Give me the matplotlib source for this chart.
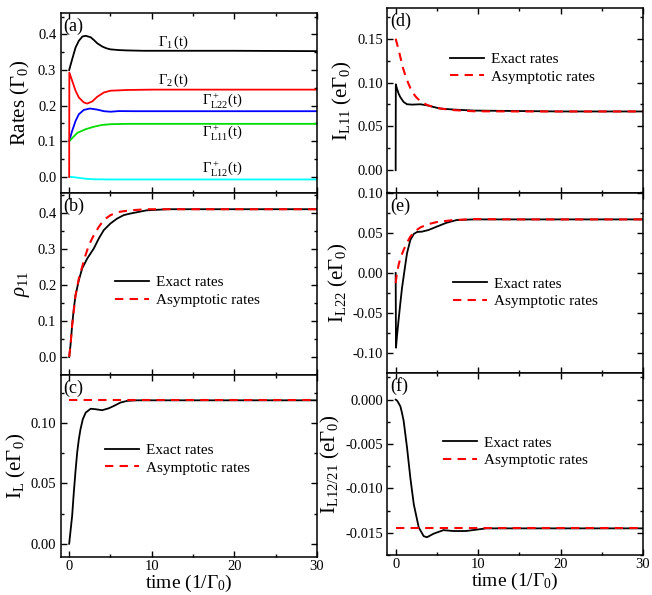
import matplotlib
matplotlib.use('Agg')
import matplotlib.pyplot as plt
from matplotlib.ticker import MultipleLocator, FormatStrFormatter

plt.rcParams['font.family'] = ['Liberation Serif', 'DejaVu Serif']
plt.rcParams['mathtext.fontset'] = 'custom'
plt.rcParams['mathtext.rm'] = 'Liberation Serif'
plt.rcParams['mathtext.it'] = 'Liberation Serif:italic'
plt.rcParams['mathtext.bf'] = 'Liberation Serif:bold'
plt.rcParams['axes.unicode_minus'] = False
plt.rcParams['axes.linewidth'] = 1.1

# ---- panel (a): rates ----
t_g1 = [0, 0.36, 0.77, 1.17, 1.6, 2.0, 2.6, 3.0, 3.4, 4.0, 4.5, 5.0, 6.0, 7.0, 9, 12, 20, 30]
g1 = [0.300, 0.330, 0.363, 0.382, 0.394, 0.396, 0.392, 0.384, 0.375, 0.366, 0.361, 0.358,
      0.356, 0.355, 0.354, 0.354, 0.354, 0.353]
t_g2 = [0, 0.02, 0.36, 0.77, 1.17, 1.77, 2.2, 2.8, 3.4, 4.2, 5.0, 7.0, 10, 20, 30]
g2 = [0, 0.293, 0.270, 0.242, 0.223, 0.209, 0.206, 0.212, 0.225, 0.237, 0.242, 0.244,
      0.245, 0.245, 0.245]
t_l22 = [0, 0.36, 0.77, 1.17, 1.77, 2.5, 3.4, 4.2, 5.0, 6.0, 8, 12, 30]
l22 = [0.101, 0.129, 0.157, 0.176, 0.188, 0.192, 0.189, 0.1845, 0.183, 0.1848, 0.1845,
       0.1845, 0.1845]
t_l11 = [0, 0.36, 1.0, 2.0, 3.0, 4.0, 5.0, 7.0, 10, 30]
l11 = [0.100, 0.109, 0.124, 0.134, 0.141, 0.146, 0.148, 0.149, 0.149, 0.149]
t_l12 = [0, 1.0, 2.0, 3.0, 5.0, 10, 30]
l12 = [0.001, -0.002, -0.005, -0.0065, -0.007, -0.007, -0.007]

# ---- panel (b): rho11 ----
t_b = [0, 0.16, 0.36, 0.56, 0.77, 1.17, 1.57, 2.18, 2.98, 3.59, 4.19, 5.0, 5.8, 6.6, 7.4,
       9.4, 12, 30]
rho_exact = [0, 0.0325, 0.088, 0.134, 0.171, 0.213, 0.2455, 0.273, 0.301, 0.329, 0.352,
             0.3705, 0.384, 0.3936, 0.398, 0.407, 0.41, 0.41]
t_b2 = [0, 0.16, 0.36, 0.77, 1.17, 1.57, 1.98, 2.38, 2.98, 3.59, 4.19, 5.0, 6.0, 7.4,
        9.4, 12, 30]
rho_asym = [0, 0.0325, 0.088, 0.171, 0.218, 0.25, 0.2825, 0.31, 0.338, 0.361, 0.38,
            0.3936, 0.4025, 0.407, 0.41, 0.41, 0.41]

# ---- panel (c): I_L ----
t_c = [0, 0.36, 0.56, 0.77, 0.97, 1.17, 1.37, 1.65, 2.0, 2.6, 3.2, 4.0, 4.8, 5.4, 6.2,
       7.0, 8.2, 12, 30]
il_exact = [0, 0.0232, 0.0425, 0.0605, 0.0757, 0.0867, 0.095, 0.1033, 0.1088, 0.112,
            0.1116, 0.1108, 0.1124, 0.1143, 0.1171, 0.1185, 0.119, 0.119, 0.119]
t_c2 = [0, 30]
il_asym = [0.119, 0.119]

# ---- panel (d): I_L11 ----
t_d = [0, 0.02, 0.16, 0.36, 0.57, 0.97, 1.38, 2.0, 3.0, 3.8, 4.6, 5.4, 7.0, 9.5, 12.7,
       20, 30]
il11_exact = [0, 0.098, 0.093, 0.0873, 0.0832, 0.0778, 0.0752, 0.0748, 0.0752, 0.074,
              0.0721, 0.0703, 0.0692, 0.068, 0.0677, 0.067, 0.067]
t_d2 = [0, 0.16, 0.36, 0.57, 0.85, 1.17, 1.58, 2.0, 2.5, 3.0, 3.8, 5.0, 6.6, 9.5, 15, 30]
il11_asym = [0.150, 0.1443, 0.1374, 0.1291, 0.1177, 0.1082, 0.098, 0.0892, 0.0832,
             0.0786, 0.0744, 0.071, 0.0688, 0.0672, 0.067, 0.067]

# ---- panel (e): I_L22 ----
t_e = [0, 0.04, 0.16, 0.36, 0.57, 0.77, 0.97, 1.17, 1.38, 1.78, 2.2, 2.6, 3.2, 4.0, 5.0,
       6.2, 7.4, 9.5, 15, 30]
il22_exact = [0, -0.0934, -0.0789, -0.0582, -0.0374, -0.0188, -0.0042, 0.0102, 0.0248,
              0.0413, 0.0488, 0.0513, 0.0517, 0.0538, 0.058, 0.0629, 0.0662, 0.067,
              0.067, 0.067]
t_e2 = [0, 0.16, 0.36, 0.57, 0.97, 1.38, 1.78, 2.4, 3.0, 4.0, 5.0, 7.0, 9.5, 15, 30]
il22_asym = [-0.0126, -0.0002, 0.0102, 0.0185, 0.0289, 0.038, 0.0455, 0.0525, 0.057,
             0.0612, 0.0637, 0.0662, 0.0674, 0.067, 0.067]

# ---- panel (f): I_L12/21 ----
t_f = [0, 0.16, 0.3, 0.57, 0.77, 0.97, 1.38, 1.78, 2.2, 2.8, 3.4, 3.8, 4.6, 5.8, 7.0,
       8.5, 11, 30]
il12_exact = [0, -0.0001, -0.0003, -0.00075, -0.0015, -0.0024, -0.0054, -0.0088,
              -0.0118, -0.0144, -0.01538, -0.0155, -0.0151, -0.0147, -0.0148, -0.0148,
              -0.0145, -0.0145]
t_f2 = [0, 30]
il12_asym = [-0.0145, -0.0145]

fig = plt.figure(figsize=(6.52, 5.95), dpi=100)
W, H = 652, 595


def add_ax(x0, y0, x1, y1):
    return fig.add_axes([x0 / W, 1 - y1 / H, (x1 - x0) / W, (y1 - y0) / H])


ax_a = add_ax(60.5, 13, 317, 193)
ax_b = add_ax(60.5, 193, 317, 375)
ax_c = add_ax(60.5, 375, 317, 557)
ax_d = add_ax(387, 8, 643, 193)
ax_e = add_ax(387, 193, 643, 373)
ax_f = add_ax(387, 373, 643, 555)

for ax in [ax_a, ax_b, ax_c, ax_d, ax_e, ax_f]:
    ax.set_xlim(-1.05, 30)
    ax.xaxis.set_major_locator(MultipleLocator(10))
    ax.xaxis.set_minor_locator(MultipleLocator(5))
    ax.tick_params(which='both', direction='in', top=True, right=True, labelsize=10.5,
                   width=1.0, pad=3)
    ax.tick_params(which='major', length=4.5)
    ax.tick_params(which='minor', length=2.5)

for ax in [ax_a, ax_b, ax_d, ax_e]:
    ax.tick_params(labelbottom=False)
for ax in [ax_c, ax_f]:
    ax.tick_params(axis='x', pad=2)
    ax.set_xlabel(r'time (1/$\Gamma_0$)', fontsize=14, labelpad=0)

ex = dict(color='black', lw=1.3)
asy = dict(color='red', lw=1.5, dashes=(4, 3))
leg_kw = dict(frameon=False, fontsize=11, handlelength=2.2, handletextpad=0.5,
              labelspacing=0.25, borderpad=0, borderaxespad=0, loc='center left')

# (a)
ax_a.plot(t_g1, g1, color='black', lw=1.3)
ax_a.plot(t_l22, l22, color='blue', lw=1.3)
ax_a.plot(t_l11, l11, color='#00dd00', lw=1.3)
ax_a.plot(t_l12, l12, color='cyan', lw=1.3)
ax_a.plot(t_g2, g2, color='red', lw=1.3)
ax_a.set_ylim(-0.045, 0.46)
ax_a.yaxis.set_major_locator(MultipleLocator(0.1))
ax_a.yaxis.set_minor_locator(MultipleLocator(0.05))
ax_a.yaxis.set_major_formatter(FormatStrFormatter('%.1f'))
ax_a.set_ylabel(r'Rates ($\Gamma_0$)', fontsize=15, labelpad=4)
lab = dict(fontsize=10.5, va='center', ha='left')
ax_a.text(10.8, 0.378, r'$\Gamma_1\,$(t)', **lab)
ax_a.text(10.8, 0.272, r'$\Gamma_2\,$(t)', **lab)
ax_a.text(16.1, 0.215, r'$\Gamma^+_{\rm L22}$(t)', **lab)
ax_a.text(16.1, 0.123, r'$\Gamma^+_{\rm L11}$(t)', **lab)
ax_a.text(16.1, 0.024, r'$\Gamma^+_{\rm L12}$(t)', **lab)

# (b)
ax_b.plot(t_b, rho_exact, label='Exact rates', **ex)
ax_b.plot(t_b2, rho_asym, label='Asymptotic rates', **asy)
ax_b.set_ylim(-0.05, 0.455)
ax_b.yaxis.set_major_locator(MultipleLocator(0.1))
ax_b.yaxis.set_minor_locator(MultipleLocator(0.05))
ax_b.yaxis.set_major_formatter(FormatStrFormatter('%.1f'))
ax_b.set_ylabel(r'$\rho_{11}$', fontsize=15, labelpad=4)
ax_b.legend(bbox_to_anchor=(0.2125, 0.46), **leg_kw)

# (c)
ax_c.plot(t_c, il_exact, label='Exact rates', **ex)
ax_c.plot(t_c2, il_asym, label='Asymptotic rates', **asy)
ax_c.set_ylim(-0.011, 0.14)
ax_c.yaxis.set_major_locator(MultipleLocator(0.05))
ax_c.yaxis.set_minor_locator(MultipleLocator(0.025))
ax_c.yaxis.set_major_formatter(FormatStrFormatter('%.2f'))
ax_c.set_ylabel(r'I$_{\rm L}$ (e$\Gamma_0$)', fontsize=15, labelpad=2)
ax_c.legend(bbox_to_anchor=(0.1735, 0.538), **leg_kw)

# (d)
ax_d.plot(t_d, il11_exact, label='Exact rates', **ex)
ax_d.plot(t_d2, il11_asym, label='Asymptotic rates', **asy)
ax_d.set_ylim(-0.026, 0.185)
ax_d.yaxis.set_major_locator(MultipleLocator(0.05))
ax_d.yaxis.set_minor_locator(MultipleLocator(0.025))
ax_d.yaxis.set_major_formatter(FormatStrFormatter('%.2f'))
ax_d.set_ylabel(r'I$_{\rm L11}$ (e$\Gamma_0$)', fontsize=15, labelpad=2)
ax_d.legend(bbox_to_anchor=(0.246, 0.676), **leg_kw)

# (e)
ax_e.plot(t_e, il22_exact, label='Exact rates', **ex)
ax_e.plot(t_e2, il22_asym, label='Asymptotic rates', **asy)
ax_e.set_ylim(-0.125, 0.1)
ax_e.yaxis.set_major_locator(MultipleLocator(0.05))
ax_e.yaxis.set_minor_locator(MultipleLocator(0.025))
ax_e.yaxis.set_major_formatter(FormatStrFormatter('%.2f'))
ax_e.set_ylabel(r'I$_{\rm L22}$ (e$\Gamma_0$)', fontsize=15, labelpad=2)
ax_e.legend(bbox_to_anchor=(0.258, 0.4475), **leg_kw)

# (f)
ax_f.plot(t_f, il12_exact, label='Exact rates', **ex)
ax_f.plot(t_f2, il12_asym, label='Asymptotic rates', **asy)
ax_f.set_ylim(-0.0175, 0.003)
ax_f.yaxis.set_major_locator(MultipleLocator(0.005))
ax_f.yaxis.set_minor_locator(MultipleLocator(0.0025))
ax_f.yaxis.set_major_formatter(FormatStrFormatter('%.3f'))
ax_f.set_ylabel(r'I$_{\rm L12/21}$ (e$\Gamma_0$)', fontsize=15, labelpad=2)
ax_f.legend(bbox_to_anchor=(0.219, 0.569), **leg_kw)

for ax, s in zip([ax_a, ax_b, ax_c, ax_d, ax_e, ax_f], 'abcdef'):
    ax.text(0.012, 0.975, '(%s)' % s, transform=ax.transAxes, fontsize=13,
            va='top', ha='left')

fig.savefig('out.png', dpi=100)
